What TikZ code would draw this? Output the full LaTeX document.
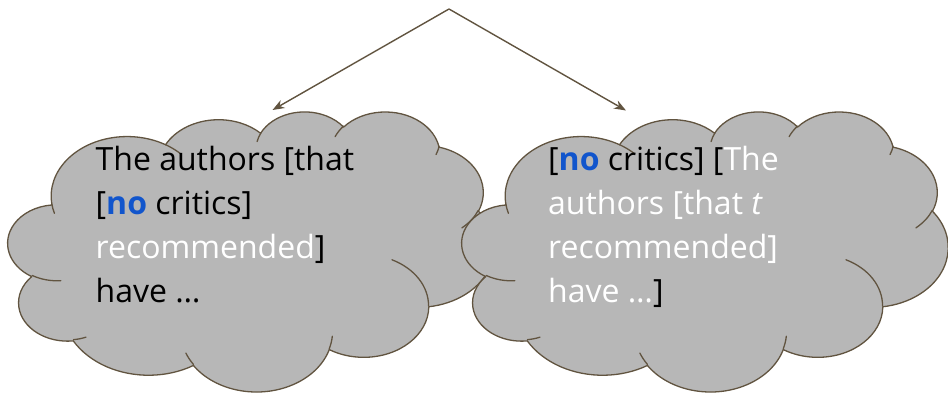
\documentclass[tikz,border=0pt]{standalone}
\usepackage{fontspec}
\setmainfont{Open Sans}
\usetikzlibrary{arrows.meta}
\definecolor{cloudfill}{HTML}{B7B7B7}
\definecolor{edgecol}{HTML}{615440}
\definecolor{noblue}{HTML}{1155CC}
\newcommand\carc[4]{\pgfextra{%
  \pgfmathparse{atan2((#1)*sin(#3),(#2)*cos(#3))}\xdef\cta{\pgfmathresult}%
  \pgfmathparse{atan2((#1)*sin((#3)+(#4)),(#2)*cos((#3)+(#4)))}\xdef\ctb{\pgfmathresult}%
  \pgfmathparse{mod(\ctb-(\cta)+720,360)}\xdef\ctd{\pgfmathresult}}%
  arc[start angle=\cta, delta angle=\ctd, x radius=#1, y radius=#2]}
\tikzset{
  cloudbody/.style={fill=cloudfill, draw=edgecol, line width=1.3pt, line join=round},
  cloudline/.style={draw=edgecol, line width=1.3pt, line cap=round},
  link/.style={draw=edgecol, line width=1.4pt, -{Stealth[length=12pt,width=9pt]}},
  words/.style={anchor=north west, inner sep=0pt, align=left, font=\fontsize{32}{44}\selectfont},
  cloud/.pic={
    \path[cloudbody] (39.00,143.70)
      \carc{67.53}{91.90}{-190.487483}{123.780533}
      \carc{53.33}{72.67}{-144.102383}{89.945233}
      \carc{43.65}{59.45}{-145.807917}{99.723017}
      \carc{48.57}{65.95}{-130.986067}{117.241733}
      \carc{53.33}{72.73}{-78.708883}{109.026917}
      \carc{67.75}{92.20}{-46.26725}{130.269}
      \carc{57.85}{78.67}{0.625017}{114.033333}
      \carc{67.52}{92.15}{22.4516}{115.17255}
      \carc{77.20}{105.43}{66.242633}{75.711017}
      \carc{43.60}{59.18}{-274.942083}{146.735567}
      \carc{43.45}{59.45}{-246.8285}{152.51885} -- cycle;
    \path[cloudline] (46.93,261.77) \carc{43.45}{59.45}{86.742}{26.4295};
    \path[cloudline] (69.28,348.99) \carc{43.60}{59.18}{73.610467}{11.447467};
    \path[cloudline] (164.78,390.90) \carc{67.52}{92.15}{137.62415}{14.0811};
    \path[cloudline] (288.27,347.51) \carc{67.52}{92.15}{6.453267}{15.99835};
    \path[cloudline] (341.29,229.54) \carc{57.85}{78.67}{-70.29235}{70.917367};
    \path[cloudline] (417.98,153.54) \carc{53.33}{72.73}{30.318033}{27.7515};
    \path[cloudline] (383.24,54.26) \carc{48.57}{65.95}{13.744333}{14.8589};
    \path[cloudline] (290.78,39.52) \carc{48.57}{65.95}{-149.18145}{18.195367};
    \path[cloudline] (221.41,47.20) \carc{43.65}{59.45}{-163.494267}{17.68635};
    \path[cloudline] (140.00,51.92) \carc{67.53}{91.90}{-66.70695}{12.31935};
    \path[cloudline] (41.27,157.89) \carc{67.53}{91.90}{157.65435}{11.858167};
  }
}
\begin{document}
\begin{tikzpicture}[x=1pt, y=-1pt]
\useasboundingbox (0,0) rectangle (948,392);
\begin{scope}[shift={(8,111)}, x=1.125pt, y=-0.6481pt]
  \pic (leftcloud) {cloud};
\end{scope}
\begin{scope}[shift={(462,111)}, x=1.125pt, y=-0.6481pt]
  \pic (rightcloud) {cloud};
\end{scope}
\node[words] (lefttext) at (95.5,146) {The authors {[}that\\
  {[}\textbf{\color{noblue}no} critics{]}\\
  {\color{white}recommended}{]}\\
  have …};
\node[words] (righttext) at (548,146) {{[}\textbf{\color{noblue}no} critics{]} {[}{\color{white}The}\\
  {\color{white}authors {[}that \textit{t}}\\
  {\color{white}recommended{]}}\\
  {\color{white}have …}{]}};
\coordinate (apex) at (449,9);
\coordinate (lefttip) at (272.5,110);
\coordinate (righttip) at (626,110.5);
\draw[link] (apex) -- (lefttip);
\draw[link] (apex) -- (righttip);
\end{tikzpicture}
\end{document}
